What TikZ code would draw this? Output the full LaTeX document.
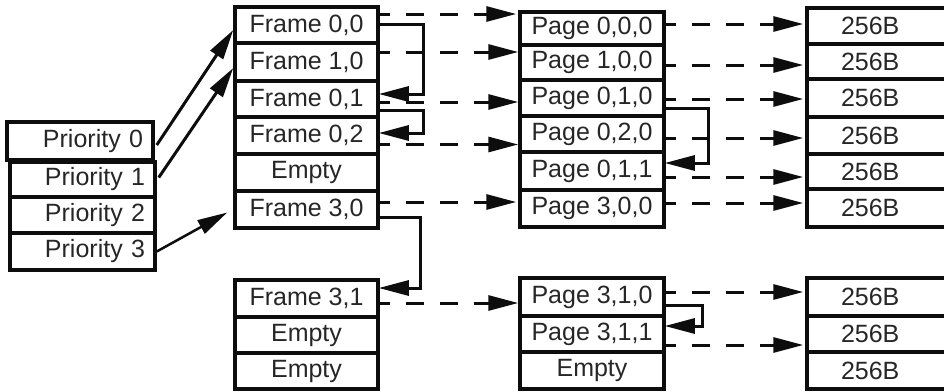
\documentclass[tikz,border=0pt]{standalone}
\usepackage{fontspec}
\setmainfont{Liberation Sans}
\usetikzlibrary{arrows.meta,calc}
\begin{document}
\begin{tikzpicture}[x=1pt,y=-1pt,
  cell/.style={draw=black!95, line width=3.5pt, inner sep=0pt, font=\fontsize{25}{28}\selectfont, text=black!85},
  fcell/.style={cell, minimum width=143pt},
  pcell/.style={cell, minimum width=144pt},
  bcell/.style={cell, text width=160pt, inner xsep=4pt, align=left},
  prio/.style={cell, inner xsep=10pt, align=right},
  tip/.style={-{Triangle[length=30pt,width=15pt]}},
  conn/.style={line width=3pt, draw=black!95, tip},
  dconn/.style={conn, dash pattern=on 18pt off 16pt, dash phase=8pt},
  bconn/.style={conn, rounded corners=0pt}
]
\useasboundingbox (0,0) rectangle (944,391);
% Priority column
\node[prio, minimum width=146pt, minimum height=38pt, text width=126pt] (p0) at (80,141) {Priority 0};
\node[prio, minimum width=145pt, minimum height=35pt, text width=125pt] (p1) at (82.5,179.5) {Priority 1};
\node[prio, minimum width=145pt, minimum height=36pt, text width=125pt] (p2) at (82.5,215) {Priority 2};
\node[prio, minimum width=145pt, minimum height=37pt, text width=125pt] (p3) at (82.5,251.5) {Priority 3};
% Frame column
\node[fcell, minimum height=36pt] (f00) at (306.5,25) {Frame 0,0};
\node[fcell, minimum height=38pt] (f10) at (306.5,62) {Frame 1,0};
\node[fcell, minimum height=36pt] (f01) at (306.5,99) {Frame 0,1};
\node[fcell, minimum height=37pt] (f02) at (306.5,135.5) {Frame 0,2};
\node[fcell, minimum height=37pt] (fe1) at (306.5,172.5) {Empty};
\node[fcell, minimum height=37pt] (f30) at (306.5,209.5) {Frame 3,0};
\node[fcell, minimum height=37pt] (f31) at (306.5,298.5) {Frame 3,1};
\node[fcell, minimum height=36pt] (fe2) at (306.5,335) {Empty};
\node[fcell, minimum height=36pt] (fe3) at (306.5,371) {Empty};
% Page column
\node[pcell, minimum height=33pt] (g000) at (592,28.5) {Page 0,0,0};
\node[pcell, minimum height=35pt] (g100) at (592,62.5) {Page 1,0,0};
\node[pcell, minimum height=36pt] (g010) at (592,98) {Page 0,1,0};
\node[pcell, minimum height=36pt] (g020) at (592,134) {Page 0,2,0};
\node[pcell, minimum height=38pt] (g011) at (592,171) {Page 0,1,1};
\node[pcell, minimum height=37pt] (g300) at (592,208.5) {Page 3,0,0};
\node[pcell, minimum height=38pt] (g310) at (592,297) {Page 3,1,0};
\node[pcell, minimum height=36pt] (g311) at (592,334) {Page 3,1,1};
\node[pcell, minimum height=37pt] (ge1) at (592,370.5) {Empty};
% 256B column
\node[bcell, minimum height=36pt] (b1) at (891,26) {\hspace{30pt}256B};
\node[bcell, minimum height=35pt] (b2) at (891,61.5) {\hspace{30pt}256B};
\node[bcell, minimum height=38pt] (b3) at (891,98) {\hspace{30pt}256B};
\node[bcell, minimum height=37pt] (b4) at (891,135.5) {\hspace{30pt}256B};
\node[bcell, minimum height=35pt] (b5) at (891,171.5) {\hspace{30pt}256B};
\node[bcell, minimum height=38pt] (b6) at (891,208) {\hspace{30pt}256B};
\node[bcell, minimum height=38pt] (b7) at (891,297) {\hspace{30pt}256B};
\node[bcell, minimum height=36pt] (b8) at (891,334) {\hspace{30pt}256B};
\node[bcell, minimum height=37pt] (b9) at (891,370.5) {\hspace{30pt}256B};
% Priority arrows
\draw[conn] ($(p0.east)+(2,4)$) -- ($(f00.west)+(0,5)$);
\draw[conn] ($(p1.east)+(2,-2)$) -- ($(f10.west)+(0,6)$);
\draw[conn, line width=2.5pt] (p3.east) -- ($(f30.west)+(-6,3)$);
% Frame -> Page dashed
\coordinate (d1) at ($(f00.east)+(0,-11)$);
\coordinate (d2) at ($(f10.east)+(0,-10)$);
\coordinate (d3) at ($(f01.east)+(0,3)$);
\coordinate (d4) at ($(f02.east)+(0,9)$);
\coordinate (d5) at ($(f30.east)+(0,-7.5)$);
\coordinate (d6) at ($(f31.east)+(0,4.5)$);
\draw[dconn] (d1) -- ($(d1 -| g000.west)+(-2,0)$);
\draw[dconn] (d2) -- (d2 -| g100.west);
\draw[dconn] (d3) -- (d3 -| g010.west);
\draw[dconn] (d4) -- (d4 -| g020.west);
\draw[dconn] (d5) -- ($(d5 -| g300.west)+(-2,0)$);
\draw[dconn] (d6) -- (d6 -| g310.west);
% Page -> 256B dashed
\coordinate (e1) at ($(g000.east)+(0,-4.5)$);
\coordinate (e2) at ($(g100.east)+(0,2.5)$);
\coordinate (e3) at ($(g010.east)+(0,1)$);
\coordinate (e4) at ($(g020.east)+(0,4)$);
\coordinate (e5) at ($(g011.east)+(0,6)$);
\coordinate (e6) at ($(g300.east)+(0,-5.5)$);
\coordinate (e7) at ($(g310.east)+(0,-5)$);
\coordinate (e8) at ($(g311.east)+(0,11)$);
\foreach \e/\b in {e1/b1,e2/b2,e3/b3,e4/b4,e5/b5,e6/b6,e7/b7,e8/b8}{
  \draw[dconn] (\e) -- ($(\e -| \b.west)+(-2,0)$);
}
% Bracket connectors
\draw[bconn] ($(f00.east)+(0,-1)$) -| (423,94) -- ($(f01.east)+(-1,-5)$);
\draw[bconn] ($(f01.east)+(0,11)$) -| (423,133) -- ($(f02.east)+(-1,-2.5)$);
\draw[bconn] ($(f30.east)+(0,7.5)$) -| (420,288) -- ($(f31.east)+(-1,-10.5)$);
\draw[bconn] ($(g010.east)+(0,10)$) -| (708,163) -- ($(g011.east)+(-1,-8)$);
\draw[bconn] ($(g310.east)+(0,8)$) -| (702,326) -- ($(g311.east)+(-1,-8)$);
\end{tikzpicture}
\end{document}
